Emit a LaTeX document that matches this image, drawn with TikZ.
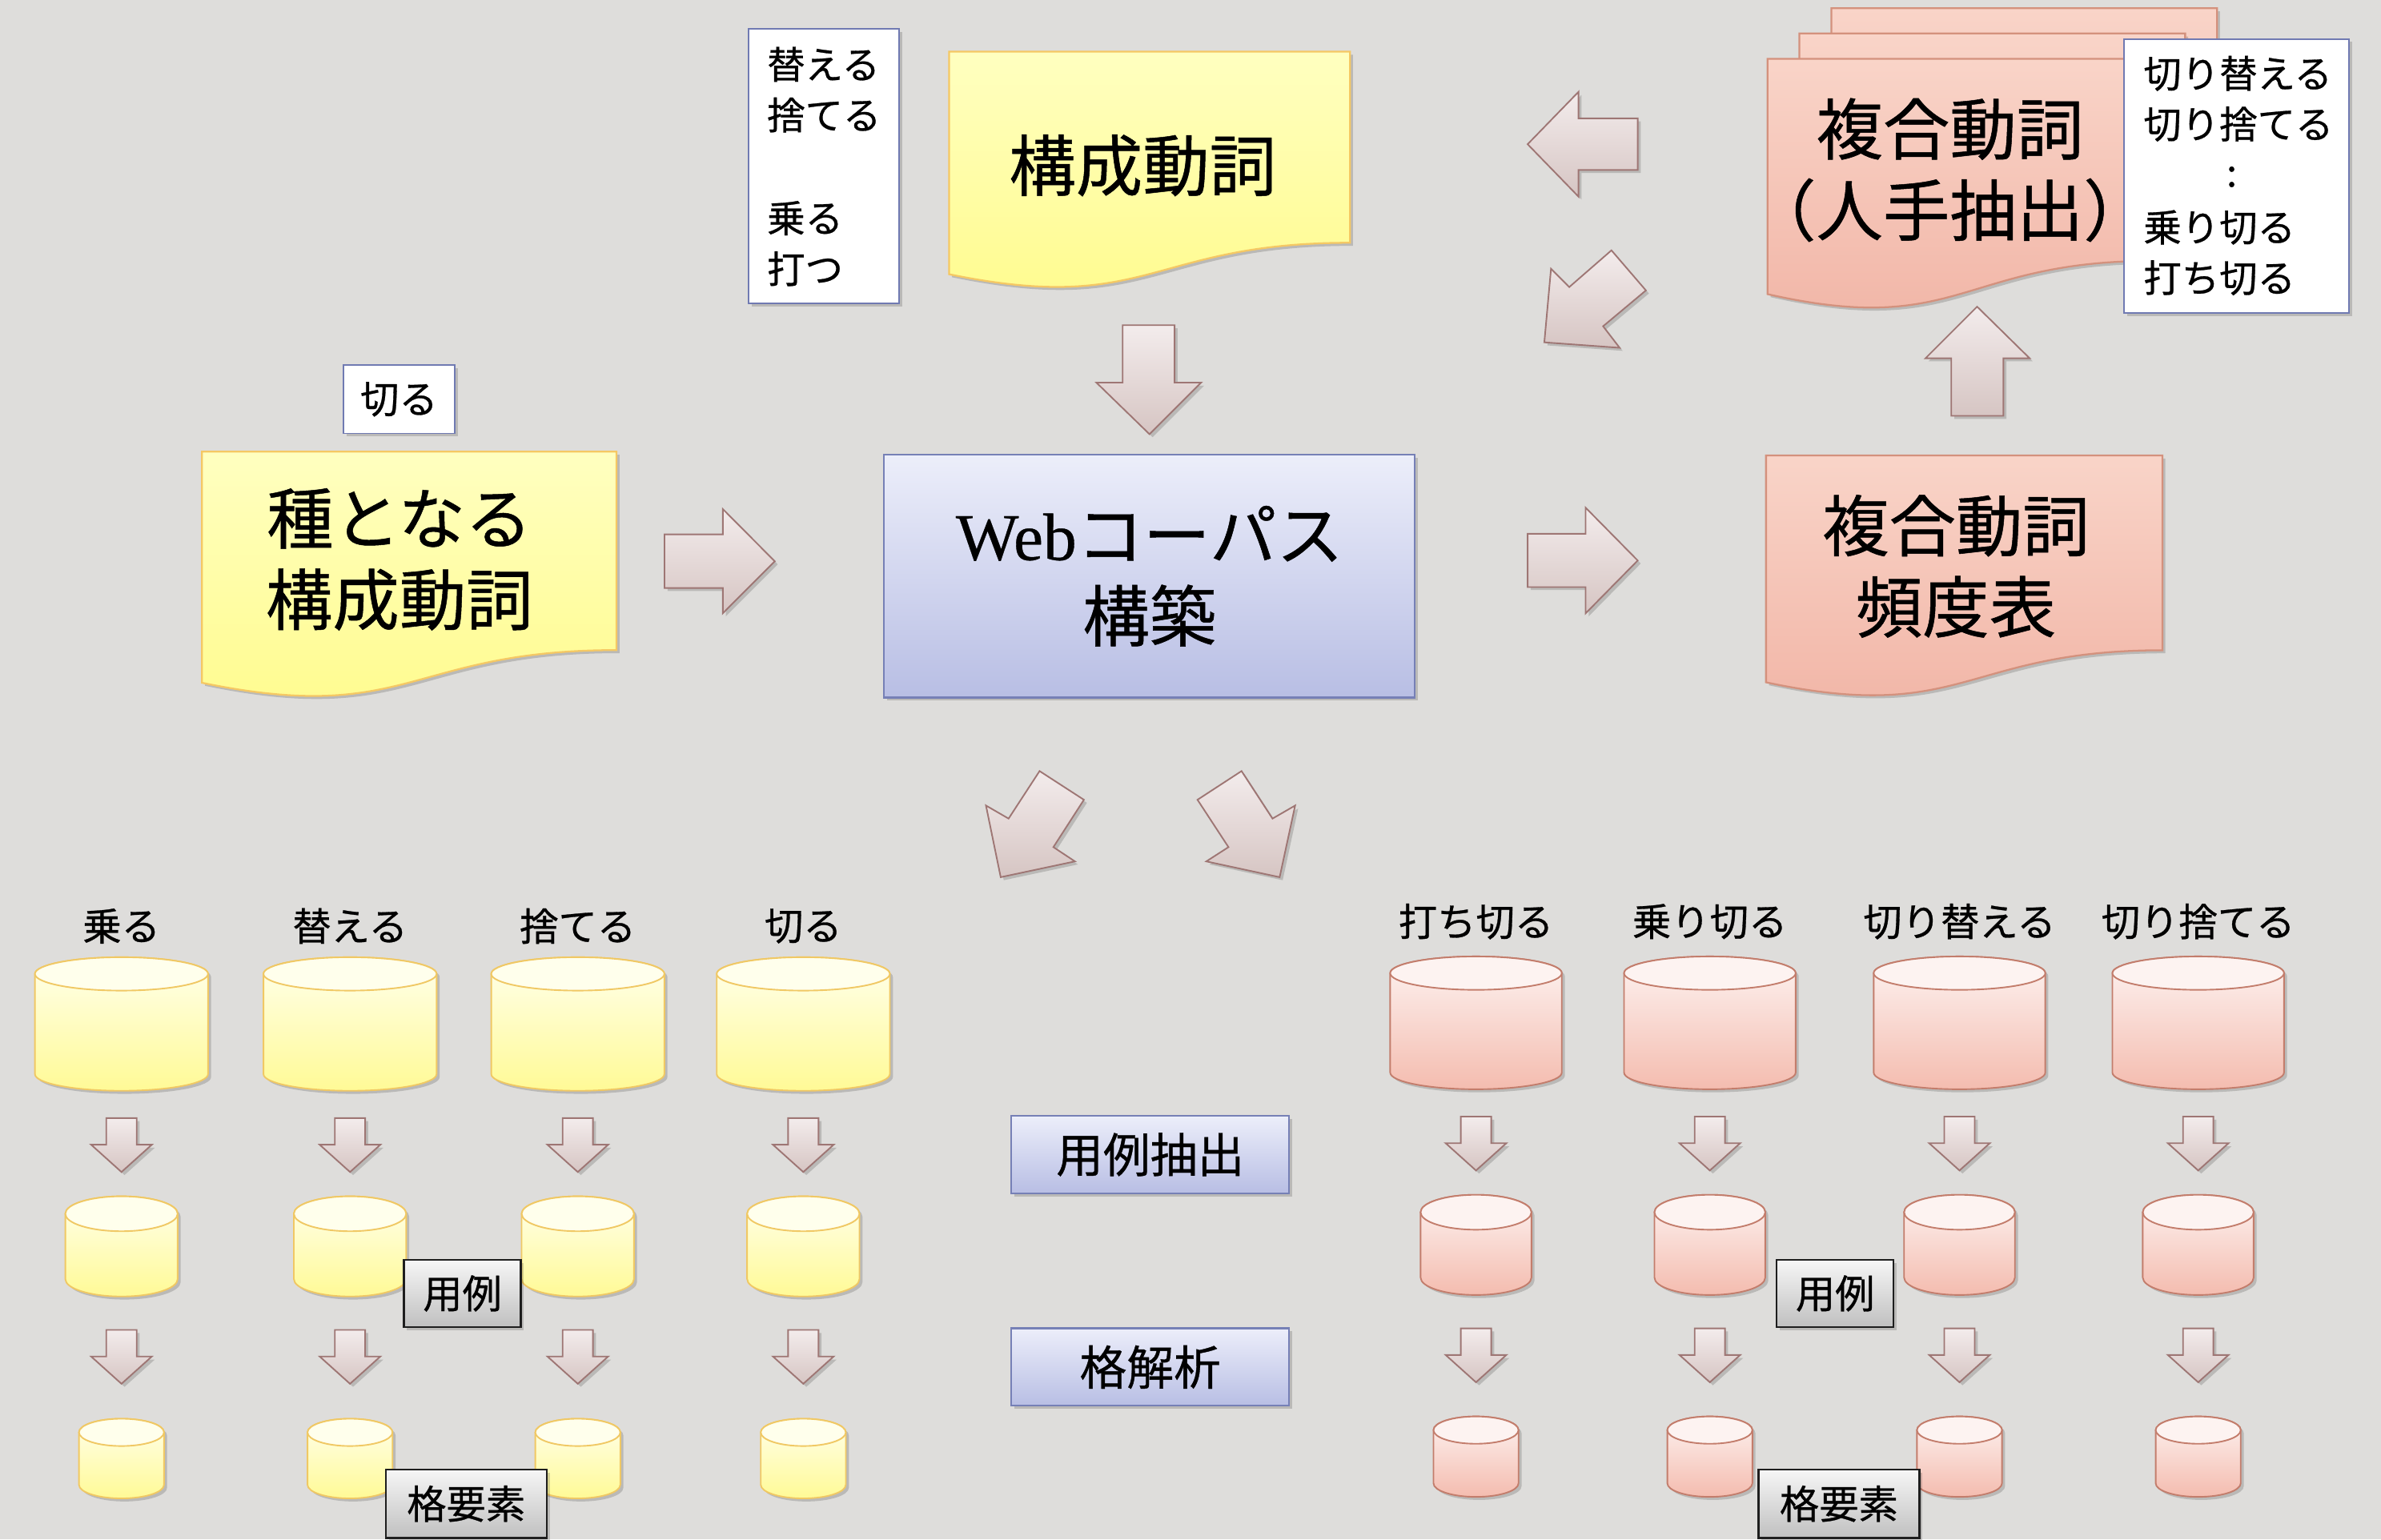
\documentclass[tikz,border=0pt]{standalone}
\usepackage{fontspec}
\setmainfont[FakeBold=0.6]{Noto Sans CJK JP}
\newfontfamily\webserif[FakeBold=0.4]{Liberation Serif}
\usetikzlibrary{shadows}
\definecolor{bgc}{RGB}{222,221,219}
\definecolor{yl1}{RGB}{255,255,192}
\definecolor{yl2}{RGB}{255,251,140}
\definecolor{ylb}{RGB}{245,200,100}
\definecolor{pk1}{RGB}{249,212,200}
\definecolor{pk2}{RGB}{241,180,165}
\definecolor{pkb}{RGB}{212,145,125}
\definecolor{cy1}{RGB}{255,255,236}
\definecolor{cy2}{RGB}{255,250,150}
\definecolor{cyb}{RGB}{240,200,100}
\definecolor{cp1}{RGB}{253,243,241}
\definecolor{cp2}{RGB}{244,188,175}
\definecolor{cpb}{RGB}{195,125,108}
\definecolor{wb1}{RGB}{236,238,250}
\definecolor{wb2}{RGB}{184,190,228}
\definecolor{wbb}{RGB}{118,128,182}
\definecolor{ar1}{RGB}{243,236,236}
\definecolor{ar2}{RGB}{214,197,195}
\definecolor{arb}{RGB}{158,118,116}
\definecolor{gl1}{RGB}{246,246,246}
\definecolor{gl2}{RGB}{192,192,192}
\definecolor{glb}{RGB}{30,30,30}
\definecolor{wbox}{RGB}{112,122,178}
\tikzset{
  shad/.style={drop shadow={shadow xshift=2pt,shadow yshift=-2pt,opacity=0.16,fill=black}},
  yellowdoc/.style={top color=yl1,bottom color=yl2,draw=ylb,line width=1.2pt,shad},
  pinkdoc/.style={top color=pk1,bottom color=pk2,draw=pkb,line width=1.2pt,shad},
  arrowshape/.style={top color=ar1,bottom color=ar2,draw=arb,line width=1pt,line join=miter,shad},
  ycylbody/.style={top color=cy1,bottom color=cy2,draw=cyb,line width=1pt,shad},
  ycyltop/.style={fill=cy1,draw=cyb,line width=1pt},
  pcylbody/.style={top color=cp1,bottom color=cp2,draw=cpb,line width=1pt,shad},
  pcyltop/.style={fill=cp1,draw=cpb,line width=1pt},
  bigtxt/.style={font=\fontsize{44pt}{53.5pt}\selectfont,align=center,inner sep=0pt},
  midtxt/.style={font=\fontsize{31pt}{36pt}\selectfont,inner sep=0pt},
  smalltxt/.style={font=\fontsize{25.5pt}{30pt}\selectfont,inner sep=0pt},
  listtxt/.style={font=\fontsize{25pt}{30pt}\selectfont,inner sep=0pt,anchor=west},
  whitebox/.style={fill=white,draw=wbox,line width=1pt,inner sep=0pt,shad},
  webbox/.style={top color=wb1,bottom color=wb2,draw=wbb,line width=1.2pt,shad},
  graybox/.style={top color=gl1,bottom color=gl2,draw=glb,line width=1.2pt,inner sep=0pt,shad,font=\fontsize{26pt}{30pt}\selectfont},
}
\newcommand\docshape[5]{%
  \path[#5] (#1,#2) -- ({#1+#3},#2) -- ({#1+#3},{#2+0.802*#4})
    .. controls ({#1+0.5*#3},{#2+0.802*#4}) and ({#1+0.5*#3},{#2+1.1075*#4}) ..
    (#1,{#2+0.934*#4}) -- cycle;}
\newcommand\cylshape[6]{%
  \path[#6cylbody] ({#1-#4},#2) -- ({#1-#4},#3)
    arc[start angle=180,end angle=0,x radius=#4,y radius=#5]
    -- ({#1+#4},#2)
    arc[start angle=0,end angle=-180,x radius=#4,y radius=#5] -- cycle;
  \path[#6cyltop] (#1,#2) ellipse [x radius=#4,y radius=#5];}
\newcommand\sarrow[2]{%
  \path[arrowshape] ({#1-10},#2) -- ({#1+10},#2) -- ({#1+10},{#2+17.5})
    -- ({#1+20},{#2+17.5}) -- (#1,{#2+35.5}) -- ({#1-20},{#2+17.5})
    -- ({#1-10},{#2+17.5}) -- cycle;}
\begin{document}
\begin{tikzpicture}[x=1pt,y=-1pt]
\useasboundingbox (0,0) rectangle (1568,1014);
\fill[bgc] (0,0) rectangle (1568,1014);

% big block arrows
\path[arrowshape] (437.6,352) -- (476,352) -- (476,335.3) -- (510.2,369.7) -- (476,404) -- (476,387.3) -- (437.6,387.3) -- cycle;
\path[arrowshape] (739.3,214.2) -- (773.5,214.2) -- (773.5,252) -- (791,252) -- (757,286) -- (722,252) -- (739.3,252) -- cycle;
\path[arrowshape] (1006,351.6) -- (1044.2,351.6) -- (1044.2,334.4) -- (1078.5,369.2) -- (1044.2,404) -- (1044.2,386.7) -- (1006,386.7) -- cycle;
\path[arrowshape] (1285,273.9) -- (1285,236) -- (1268,236) -- (1302,202) -- (1336.6,236) -- (1319.3,236) -- (1319.3,273.9) -- cycle;
\path[arrowshape] (1078.5,78) -- (1039.5,78) -- (1039.5,60.5) -- (1006,95) -- (1039.5,129.5) -- (1039.5,112) -- (1078.5,112) -- cycle;
\path[arrowshape] (1017,225.5) -- (1021.4,177) -- (1033.4,189.1) -- (1061.2,164.9) -- (1083.9,191.3) -- (1055.7,214.9) -- (1066.6,229.1) -- cycle;
\path[arrowshape] (659,577.8) -- (649.3,530.6) -- (664.2,539.2) -- (684.6,507.9) -- (713.8,526.8) -- (693.7,558) -- (707.9,567.4) -- cycle;
\path[arrowshape] (842.7,577.8) -- (852.9,530.6) -- (838,539.2) -- (817.6,507.9) -- (788.6,526.8) -- (809,558) -- (794.4,567.4) -- cycle;

% documents
\docshape{133}{297.5}{273}{163}{yellowdoc}
\node[bigtxt] (seed) at (263,368.5) {種となる\\構成動詞};
\docshape{625}{34}{264}{157}{yellowdoc}
\node[bigtxt] (kosei) at (752.5,109) {構成動詞};
\docshape{1163}{300}{261}{160}{pinkdoc}
\node[bigtxt] (hindo) at (1288,373) {複合動詞\\頻度表};
\docshape{1206}{5.4}{254}{166}{pinkdoc}
\docshape{1185}{22}{254}{166}{pinkdoc}
\docshape{1164}{38.7}{254}{166}{pinkdoc}
\node[bigtxt] (jinshu) at (1284,112) {複合動詞\\（人手抽出）};

% web box
\node[webbox,bigtxt,minimum width=349.5pt,minimum height=160pt] (web) at (757,379.5) {{\webserif Web}コーパス\\構築};

% white boxes
\node[whitebox,minimum width=99pt,minimum height=181pt] (lbox) at (542.5,109.5) {};
\node[listtxt] (l1) at (505,42.4) {替える};
\node[listtxt] (l2) at (505,75.7) {捨てる};
\node[listtxt] (l3) at (505,143.7) {乗る};
\node[listtxt] (l4) at (505,177) {打つ};
\node[whitebox,minimum width=73.5pt,minimum height=45pt] (kirubox) at (262.8,263) {};
\node[smalltxt] (kiru) at (262.8,263) {切る};
\node[whitebox,minimum width=148.4pt,minimum height=180.7pt] (rbox) at (1472.8,116) {};
\node[listtxt] (r1) at (1411.4,48.4) {切り替える};
\node[listtxt] (r2) at (1411.4,81.7) {切り捨てる};
\node[listtxt] (rc) at (1466,116.5) {:};
\node[listtxt] (r3) at (1411.4,149.8) {乗り切る};
\node[listtxt] (r4) at (1411.4,183) {打ち切る};

% cylinder labels
\node[smalltxt] (ya) at (80,610) {乗る};
\node[smalltxt] (yb) at (230.5,610) {替える};
\node[smalltxt] (yc) at (380.5,610) {捨てる};
\node[smalltxt] (yd) at (529,610) {切る};
\node[smalltxt] (pa) at (972,607) {打ち切る};
\node[smalltxt] (pb) at (1126,607) {乗り切る};
\node[smalltxt] (pc) at (1290.4,607) {切り替える};
\node[smalltxt] (pd) at (1447.6,607) {切り捨てる};

% cylinders
\foreach \cx in {80,230.5,380.5,529}{
  \cylshape{\cx}{641.5}{707.5}{57}{11}{y}
  \sarrow{\cx}{736.5}
  \cylshape{\cx}{799.5}{842.5}{37}{11.5}{y}
  \sarrow{\cx}{876}
  \cylshape{\cx}{943.5}{978}{28}{9}{y}
}
\foreach \cx in {972,1126,1290.4,1447.6}{
  \cylshape{\cx}{641}{706.5}{56.5}{11}{p}
  \sarrow{\cx}{735.5}
  \cylshape{\cx}{798.5}{841.5}{36.5}{11.5}{p}
  \sarrow{\cx}{875}
  \cylshape{\cx}{942}{977}{28}{9}{p}
}

% gray labels
\node[graybox,minimum width=77pt,minimum height=44pt] (ly) at (304.5,852) {用例};
\node[graybox,minimum width=106pt,minimum height=45pt] (lk) at (307,990.5) {格要素};
\node[graybox,minimum width=77pt,minimum height=44pt] (ry) at (1208.5,852) {用例};
\node[graybox,minimum width=106pt,minimum height=45pt] (rk) at (1211,990.5) {格要素};

% center boxes
\node[webbox,midtxt,minimum width=183pt,minimum height=51pt] (yourei) at (757.5,760.5) {用例抽出};
\node[webbox,midtxt,minimum width=183pt,minimum height=51pt] (kaku) at (757.5,900.5) {格解析};
\end{tikzpicture}
\end{document}
